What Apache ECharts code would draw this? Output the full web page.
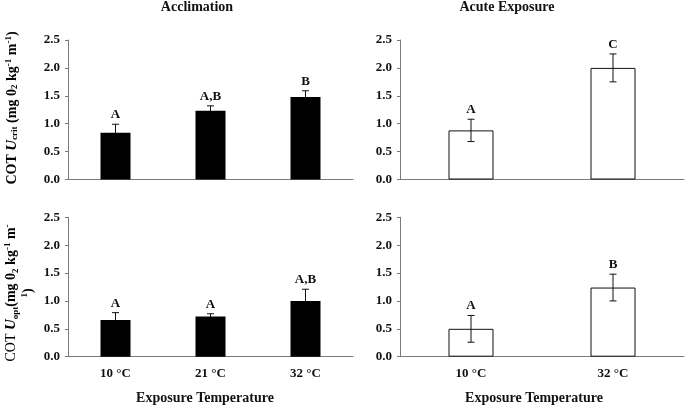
<!DOCTYPE html>
<html><head><meta charset="utf-8">
<script src="https://cdn.jsdelivr.net/npm/echarts@6/dist/echarts.min.js"></script>
<style>html,body{margin:0;padding:0;background:#fff}#c{width:685px;height:406px}</style>
</head><body><div id="c"></div>
<script>
// ---- data ----
var accCategories = ['10 °C', '21 °C', '32 °C'];
var acuteCategories = ['10 °C', '32 °C'];
var accCritMean = [0.84, 1.23, 1.48];
var accCritErr = [0.15, 0.09, 0.11];
var accCritLetters = ['A', 'A,B', 'B'];
var acuteCritMean = [0.88, 2.00];
var acuteCritErr = [0.20, 0.25];
var acuteCritLetters = ['A', 'C'];
var accOptMean = [0.66, 0.72, 1.00];
var accOptErr = [0.13, 0.05, 0.21];
var accOptLetters = ['A', 'A', 'A,B'];
var acuteOptMean = [0.50, 1.24];
var acuteOptErr = [0.24, 0.24];
var acuteOptLetters = ['A', 'B'];
var yTicks = [0, 0.5, 1.0, 1.5, 2.0, 2.5];

var FONT = "'Liberation Serif','Times New Roman',serif";
var AXC = '#7a7a7a';

var grids = [
  {left: 68, width: 285, top: 40, height: 139.5},
  {left: 400, width: 284, top: 40, height: 139.5},
  {left: 68, width: 285, top: 217.3, height: 139.4},
  {left: 400, width: 284, top: 217.3, height: 139.4}
];
var cats = [accCategories, acuteCategories, accCategories, acuteCategories];
var means = [accCritMean, acuteCritMean, accOptMean, acuteOptMean];
var errs = [accCritErr, acuteCritErr, accOptErr, acuteOptErr];
var letters = [accCritLetters, acuteCritLetters, accOptLetters, acuteOptLetters];

var xAxes = [], yAxes = [], series = [];
for (var i = 0; i < 4; i++) {
  xAxes.push({
    type: 'category', gridIndex: i, data: cats[i],
    axisLine: {lineStyle: {color: AXC, width: 1}},
    axisTick: {show: false},
    axisLabel: {show: i >= 2, margin: 10, color: '#111', fontFamily: FONT, fontWeight: 'bold', fontSize: 13}
  });
  yAxes.push({
    type: 'value', gridIndex: i, min: yTicks[0], max: yTicks[yTicks.length - 1], interval: 0.5,
    axisLine: {show: true, lineStyle: {color: AXC, width: 1}},
    axisTick: {show: true, length: 3, lineStyle: {color: AXC}},
    splitLine: {show: false},
    axisLabel: {margin: 8, color: '#111', fontFamily: FONT, fontWeight: 'bold', fontSize: 13,
      formatter: function (v) { return v.toFixed(1); }}
  });
  var filled = (i % 2 === 0);
  series.push({
    type: 'bar', xAxisIndex: i, yAxisIndex: i, data: means[i], z: 2,
    barWidth: filled ? 30 : 45,
    itemStyle: filled ? {color: '#000', borderColor: '#000', borderWidth: 0}
                      : {color: '#fff', borderColor: '#111', borderWidth: 1},
    silent: true, animation: false
  });
  (function (idx, behind) {
    var d = means[idx].map(function (m, k) { return [k, m - errs[idx][k], m + errs[idx][k]]; });
    series.push({
      type: 'custom', xAxisIndex: idx, yAxisIndex: idx, data: d, animation: false, silent: true,
      z: behind ? 1 : 5,
      renderItem: function (params, api) {
        var x = api.value(0);
        var lo = api.coord([x, api.value(1)]);
        var hi = api.coord([x, api.value(2)]);
        var cw = 3.5;
        var st = {stroke: '#111', lineWidth: 1};
        return {type: 'group', children: [
          {type: 'line', shape: {x1: hi[0], y1: lo[1], x2: hi[0], y2: hi[1]}, style: st},
          {type: 'line', shape: {x1: hi[0] - cw, y1: hi[1], x2: hi[0] + cw, y2: hi[1]}, style: st},
          {type: 'line', shape: {x1: hi[0] - cw, y1: lo[1], x2: hi[0] + cw, y2: lo[1]}, style: st},
          {type: 'text', x: hi[0], y: hi[1] - 3, style: {text: letters[idx][params.dataIndex],
            textAlign: 'center', textVerticalAlign: 'bottom', fill: '#111',
            font: 'bold 13px ' + FONT}}
        ]};
      }
    });
  })(i, filled);
}

var rich = {
  b: {fontFamily: FONT, fontWeight: 'bold', fontSize: 14, color: '#111'},
  r: {fontFamily: FONT, fontWeight: 'normal', fontSize: 14, color: '#111'},
  bi: {fontFamily: FONT, fontWeight: 'bold', fontStyle: 'italic', fontSize: 15, color: '#111'},
  sub: {fontFamily: FONT, fontWeight: 'bold', fontSize: 9, color: '#111', verticalAlign: 'bottom'},
  sup: {fontFamily: FONT, fontWeight: 'bold', fontSize: 9, color: '#111', verticalAlign: 'top'}
};

var option = {
  animation: false,
  backgroundColor: '#fff',
  grid: grids,
  xAxis: xAxes,
  yAxis: yAxes,
  series: series,
  graphic: [
    {type: 'text', x: 197, y: 7, style: {text: 'Acclimation', font: 'bold 14px ' + FONT, fill: '#111', textAlign: 'center', textVerticalAlign: 'middle'}},
    {type: 'text', x: 507, y: 7, style: {text: 'Acute Exposure', font: 'bold 14px ' + FONT, fill: '#111', textAlign: 'center', textVerticalAlign: 'middle'}},
    {type: 'text', x: 205, y: 398, style: {text: 'Exposure Temperature', font: 'bold 14px ' + FONT, fill: '#111', textAlign: 'center', textVerticalAlign: 'middle'}},
    {type: 'text', x: 534, y: 398, style: {text: 'Exposure Temperature', font: 'bold 14px ' + FONT, fill: '#111', textAlign: 'center', textVerticalAlign: 'middle'}},
    {type: 'text', x: 12, y: 108, rotation: Math.PI / 2,
      style: {text: '{b|COT }{bi|U}{sub|crit}{b| (mg 0}{sub|2}{b| kg}{sup|-1}{b| m}{sup|-1}{b|)}',
        rich: rich, align: 'center', verticalAlign: 'middle', textAlign: 'center', textVerticalAlign: 'middle'}},
    {type: 'text', x: 20, y: 293, rotation: Math.PI / 2,
      style: {text: '{r|COT }{bi|U}{sub|opt}{b|(mg 0}{sub|2}{b| kg}{sup|-1}{b| m}{sup|-}\n{sup|1}{b|)}',
        rich: rich, align: 'center', verticalAlign: 'middle', textAlign: 'center', textVerticalAlign: 'middle', lineHeight: 17}}
  ]
};
var chart = echarts.init(document.getElementById('c'), null, {renderer: 'canvas'});
chart.setOption(option);
</script>
</body></html>
